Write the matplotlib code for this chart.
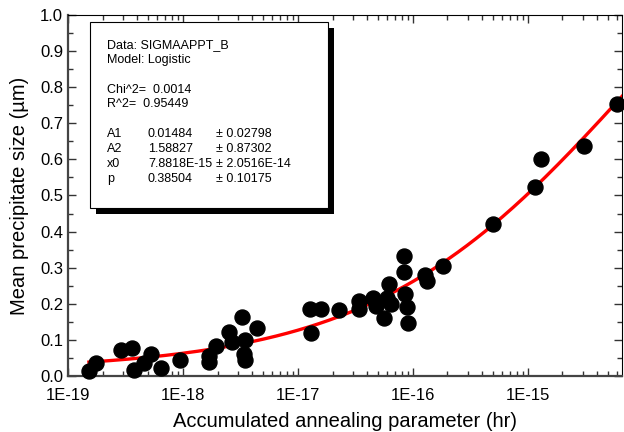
import numpy as np
import matplotlib.pyplot as plt
from matplotlib.patches import Rectangle
from matplotlib.ticker import MultipleLocator, LogLocator, NullFormatter, FormatStrFormatter

plt.rcParams['font.family'] = ['Liberation Sans', 'DejaVu Sans']

# Accumulated annealing parameter (hr) and mean precipitate size (um)
annealing = [1.52e-19, 1.75e-19, 2.9e-19, 3.6e-19, 3.75e-19, 4.6e-19, 5.3e-19, 6.4e-19, 9.4e-19,
             1.69e-18, 1.69e-18, 1.94e-18,
             2.52e-18, 2.68e-18, 3.27e-18, 3.48e-18, 3.41e-18, 3.48e-18, 4.43e-18,
             1.28e-17, 1.6e-17, 1.31e-17, 2.3e-17, 3.43e-17, 3.43e-17, 4.54e-17, 4.79e-17,
             5.66e-17, 6.26e-17, 6.01e-17, 6.52e-17,
             8.46e-17, 8.3e-17, 8.63e-17, 8.81e-17, 8.99e-17, 1.28e-16, 1.34e-16, 1.82e-16,
             4.95e-16, 1.15e-15, 1.3e-15, 3.08e-15, 5.97e-15]
size = [0.014, 0.036, 0.072, 0.078, 0.017, 0.036, 0.061, 0.022, 0.044,
        0.055, 0.039, 0.083,
        0.122, 0.094, 0.163, 0.100, 0.061, 0.044, 0.133,
        0.186, 0.186, 0.119, 0.183, 0.208, 0.186, 0.216, 0.194,
        0.161, 0.255, 0.216, 0.199,
        0.332, 0.288, 0.227, 0.191, 0.147, 0.280, 0.263, 0.305,
        0.421, 0.524, 0.601, 0.637, 0.753]

xticks = [1e-19, 1e-18, 1e-17, 1e-16, 1e-15]
xlabels = ['1E-19', '1E-18', '1E-17', '1E-16', '1E-15']

# logistic fit parameters
A1, A2, x0, p = 0.01484, 1.58827, 7.8818e-15, 0.38504

W, H = 624, 432
fig = plt.figure(figsize=(W / 100, H / 100), dpi=100)
ax = fig.add_axes([68 / W, 1 - 376 / H, (622 - 68) / W, (376 - 15) / H])

xfit = np.logspace(np.log10(annealing[0]), np.log10(6.6e-15), 300)
yfit = A2 + (A1 - A2) / (1 + (xfit / x0) ** p)
ax.plot(xfit, yfit, color='red', lw=2.4, zorder=2)
ax.plot(annealing, size, 'o', color='black', ms=10.8, zorder=3, clip_on=False)

ax.set_xscale('log')
ax.set_xlim(1e-19, 6.6e-15)
ax.set_ylim(0, 1)
ax.set_xticks(xticks)
ax.set_xticklabels(xlabels)
ax.xaxis.set_minor_locator(LogLocator(base=10, subs=np.arange(2, 10), numticks=100))
ax.xaxis.set_minor_formatter(NullFormatter())
ax.yaxis.set_major_locator(MultipleLocator(0.1))
ax.yaxis.set_minor_locator(MultipleLocator(0.05))
ax.yaxis.set_major_formatter(FormatStrFormatter('%.1f'))
ax.tick_params(which='both', direction='in', top=True, right=True, labelsize=12, color='#333333')
ax.tick_params(which='major', length=6, width=1)
ax.tick_params(which='minor', length=3.5, width=1)
ax.tick_params(axis='x', pad=9)
for s in ['left', 'bottom']:
    ax.spines[s].set_color('#444444')
    ax.spines[s].set_linewidth(1.6)
for s in ['top', 'right']:
    ax.spines[s].set_linewidth(0.8)

ax.set_xlabel('Accumulated annealing parameter (hr)', fontsize=14.5, labelpad=6)
ax.set_ylabel('Mean precipitate size (\u00b5m)', fontsize=14.5, labelpad=8)


def fx(px):
    return px / W


def fy(py):
    return 1 - py / H


# fit results box with drop shadow
fig.add_artist(Rectangle((fx(96), fy(214)), 238 / W, 186 / H, transform=fig.transFigure,
                         facecolor='black', edgecolor='none', zorder=4))
fig.add_artist(Rectangle((fx(90), fy(208)), 238 / W, 186 / H, transform=fig.transFigure,
                         facecolor='white', edgecolor='black', lw=0.8, zorder=5))

box_font = 9
fig.text(fx(107), fy(45), 'Data: SIGMAAPPT_B', fontsize=box_font, va='center', zorder=6)
fig.text(fx(107), fy(60), 'Model: Logistic', fontsize=box_font, va='center', zorder=6)
fig.text(fx(107), fy(90), 'Chi^2=  0.0014', fontsize=box_font, va='center', zorder=6)
fig.text(fx(107), fy(104), 'R^2=  0.95449', fontsize=box_font, va='center', zorder=6)

params = ['A1', 'A2', 'x0', 'p']
values = ['0.01484', '1.58827', '7.8818E-15', '0.38504']
errors = ['\u00b1 0.02798', '\u00b1 0.87302', '\u00b1 2.0516E-14', '\u00b1 0.10175']
for i in range(len(params)):
    yy = fy(134 + i * 15)
    fig.text(fx(107), yy, params[i], fontsize=box_font, va='center', zorder=6)
    fig.text(fx(148), yy, values[i], fontsize=box_font, va='center', zorder=6)
    fig.text(fx(216), yy, errors[i], fontsize=box_font, va='center', zorder=6)

fig.savefig('out.png', dpi=100)
